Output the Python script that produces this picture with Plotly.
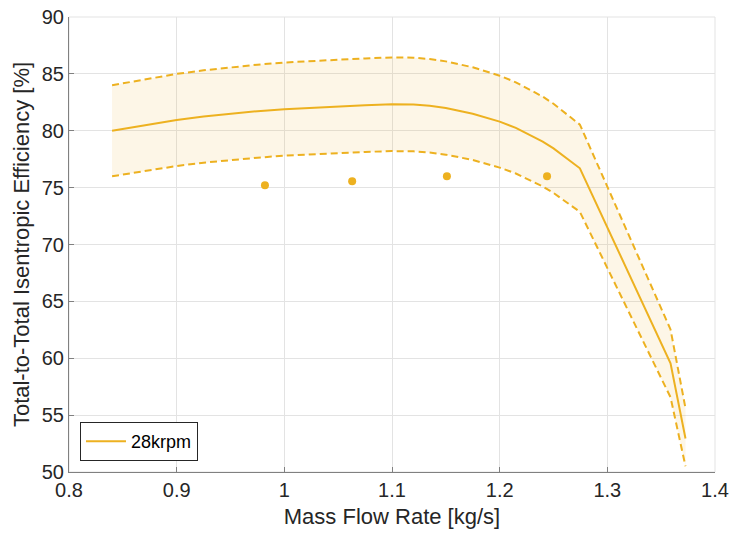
import plotly.graph_objects as go

# Data
mass_flow = [0.84, 0.87, 0.90, 0.925, 0.95, 0.975, 1.00, 1.025, 1.05, 1.075, 1.10, 1.12, 1.135,
             1.15, 1.175, 1.20, 1.215, 1.23, 1.24, 1.25, 1.26, 1.2745, 1.3587, 1.3726]
eff_center = [80.0, 80.5, 80.95, 81.25, 81.5, 81.72, 81.9, 82.03, 82.15, 82.25, 82.33, 82.3, 82.2,
              82.0, 81.5, 80.8, 80.25, 79.55, 79.05, 78.45, 77.75, 76.7, 59.55, 52.95]
eff_upper = [84.0, 84.53, 85.0, 85.31, 85.58, 85.81, 86.0, 86.13, 86.26, 86.36, 86.45, 86.42, 86.31,
             86.1, 85.58, 84.84, 84.26, 83.53, 83.0, 82.37, 81.64, 80.54, 62.53, 55.6]
eff_lower = [76.0, 76.48, 76.9, 77.19, 77.43, 77.63, 77.81, 77.93, 78.04, 78.14, 78.21, 78.19, 78.09,
             77.9, 77.43, 76.76, 76.24, 75.57, 75.1, 74.53, 73.86, 72.87, 56.57, 50.5]

exp_flow = [0.982, 1.063, 1.151, 1.244]
exp_eff = [75.2, 75.55, 76.0, 76.0]

series_name = "28krpm"
x_title = "Mass Flow Rate [kg/s]"
y_title = "Total-to-Total Isentropic Efficiency [%]"
x_ticks = [0.8, 0.9, 1.0, 1.1, 1.2, 1.3, 1.4]
x_ticklabels = ["0.8", "0.9", "1", "1.1", "1.2", "1.3", "1.4"]
y_ticks = [50, 55, 60, 65, 70, 75, 80, 85, 90]

color = "#EDB120"
fill_color = "rgba(237,177,32,0.11)"
text_color = "#262626"
font_family = "Liberation Sans, Arial, sans-serif"

fig = go.Figure()

# band fill
fig.add_trace(go.Scatter(
    x=mass_flow + mass_flow[::-1],
    y=eff_upper + eff_lower[::-1],
    fill="toself", fillcolor=fill_color,
    line=dict(width=0), mode="lines",
    showlegend=False, hoverinfo="skip",
))
fig.add_trace(go.Scatter(
    x=mass_flow, y=eff_upper, mode="lines",
    line=dict(color=color, width=2, dash="7px,4px"),
    showlegend=False,
))
fig.add_trace(go.Scatter(
    x=mass_flow, y=eff_lower, mode="lines",
    line=dict(color=color, width=2, dash="7px,4px"),
    showlegend=False,
))
fig.add_trace(go.Scatter(
    x=mass_flow, y=eff_center, mode="lines",
    line=dict(color=color, width=2),
    name=series_name, showlegend=True,
))
fig.add_trace(go.Scatter(
    x=exp_flow, y=exp_eff, mode="markers",
    marker=dict(color=color, size=8),
    showlegend=False,
))

axis_common = dict(
    showgrid=True, gridcolor="#e3e3e3", gridwidth=1,
    showline=True, linecolor="#808080", linewidth=1,
    ticks="inside", ticklen=5, tickcolor="#808080",
    tickfont=dict(size=20, color=text_color, family=font_family),
    zeroline=False, automargin=False,
)

fig.update_xaxes(
    range=[0.8, 1.4], tickvals=x_ticks, ticktext=x_ticklabels,
    title=dict(text=x_title, font=dict(size=22, color=text_color, family=font_family), standoff=8),
    **axis_common,
)
fig.update_yaxes(
    range=[50, 90], tickvals=y_ticks,
    title=dict(text=y_title, font=dict(size=22, color=text_color, family=font_family), standoff=6),
    **axis_common,
)

fig.update_layout(
    width=729, height=535,
    margin=dict(l=69, r=14, t=17, b=63),
    plot_bgcolor="white", paper_bgcolor="white",
    font=dict(family=font_family, color=text_color),
    showlegend=True,
    legend=dict(
        x=0.017, y=0.024, xanchor="left", yanchor="bottom",
        bgcolor="white", bordercolor="#262626", borderwidth=1,
        font=dict(size=18, color="#000000", family=font_family),
        itemwidth=40, tracegroupgap=0,
    ),
    shapes=[dict(
        type="rect", xref="paper", yref="paper", x0=0, y0=0, x1=1, y1=1,
        line=dict(color="#e3e3e3", width=1), layer="below",
    )],
)

fig.write_html("out.html")
